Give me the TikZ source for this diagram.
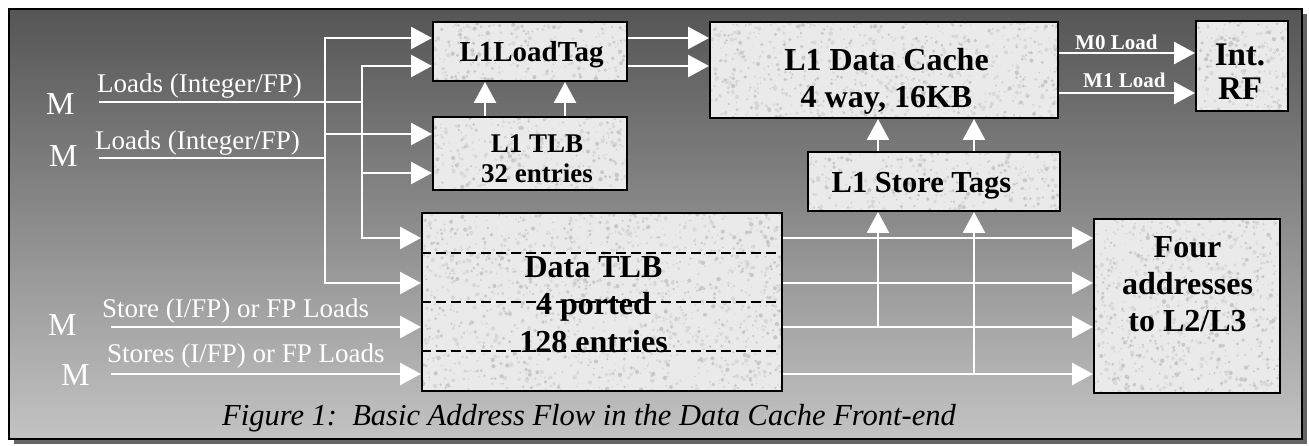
\documentclass[tikz,border=0pt]{standalone}
\usepackage{fontspec}
\setmainfont{Liberation Serif}
\usetikzlibrary{arrows.meta}
\definecolor{bgtop}{RGB}{85,85,85}
\definecolor{bgbot}{RGB}{195,195,195}
\definecolor{boxfill}{RGB}{234,234,234}
\definecolor{speck}{RGB}{200,200,200}
\definecolor{speckb}{RGB}{216,216,216}
\definecolor{shadowc}{RGB}{100,100,100}
\begin{document}
\begin{tikzpicture}[x=1pt,y=-1pt,
  granite/.style={path picture={
    \pgfpointdiff{\pgfpointanchor{path picture bounding box}{south west}}{\pgfpointanchor{path picture bounding box}{north east}}%
    \pgfgetlastxy\gw\gh
    \pgfmathtruncatemacro\gn{abs(\gw/42)*abs(\gh)}%
    \foreach \k in {1,...,\gn}{%
      \pgfmathsetmacro\px{rnd*\gw}%
      \pgfmathsetmacro\py{rnd*\gh}%
      \pgfmathsetmacro\pr{0.6+1.6*rnd}%
      \pgfmathtruncatemacro\pc{rnd<0.4 ? 0 : 1}%
      \ifnum\pc=0\relax
        \fill[speck] ([shift={(\px pt,\py pt)}]path picture bounding box.south west) circle[radius=\pr pt];
      \else
        \fill[speckb] ([shift={(\px pt,\py pt)}]path picture bounding box.south west) circle[radius=\pr pt];
      \fi
    }}},
  box/.style={draw=black,line width=2pt,fill=boxfill,inner sep=0pt,granite},
  btext/.style={font=\bfseries, align=center, inner sep=0pt, text=black},
  ltext/.style={inner sep=0pt, text=white, anchor=base west},
  wire/.style={draw=white,line width=2.6pt,line cap=rect},
  arr/.style={draw=white,line width=2.6pt,-{Triangle[length=21pt,width=22pt]}},
  dashline/.style={draw=black,line width=1.5pt,dash pattern=on 10pt off 5pt}]
\pgfmathsetseed{4242}
\useasboundingbox (0,0) rectangle (1309,446);
% frame
\fill[shadowc] (14,14) rectangle (1307,444);
\shade[top color=bgtop,bottom color=bgbot] (9,9) rectangle (1302,439);
\draw[line width=2pt] (9,9) rectangle (1302,439);
% boxes
\node[box, minimum width=194, minimum height=59] (ltag) at (530,51.5) {};
\node[box, minimum width=194, minimum height=73] (tlb1) at (530,153.5) {};
\node[box, minimum width=348, minimum height=96] (dcache) at (884,70) {};
\node[box, minimum width=92, minimum height=90] (intrf) at (1242,66) {};
\node[box, minimum width=252, minimum height=59] (stags) at (934,181.5) {};
\node[box, minimum width=360, minimum height=178] (dtlb) at (602,302) {};
\node[box, minimum width=186, minimum height=174] (four) at (1187,306) {};
% dashed rows in Data TLB
\coordinate (d1) at (0,253);
\coordinate (d2) at (0,302);
\coordinate (d3) at (0,351);
\draw[dashline] (dtlb.west|-d1) -- (dtlb.east|-d1);
\draw[dashline] (dtlb.west|-d2) -- (dtlb.east|-d2);
\draw[dashline] (dtlb.west|-d3) -- (dtlb.east|-d3);
% box texts
\node[btext, anchor=base, font=\bfseries\fontsize{29}{32}\selectfont] (ltagT) at (531.5,62) {L1LoadTag};
\node[btext, font=\bfseries\fontsize{27}{30}\selectfont] (tlb1T) at (537,159) {L1 TLB\\32 entries};
\node[btext, font=\bfseries\fontsize{32}{37}\selectfont] (dcacheT) at (886.5,81) {L1 Data Cache\\4 way, 16KB};
\node[btext, font=\bfseries\fontsize{33}{34}\selectfont] (intrfT) at (1240,72) {Int.\\RF};
\node[btext, anchor=base, font=\bfseries\fontsize{30.5}{34}\selectfont] (stagsT) at (921.5,193) {L1 Store Tags};
\node[btext, font=\bfseries\fontsize{32}{37.5}\selectfont] (dtlbT) at (593.5,304.5) {Data TLB\\4 ported\\128 entries};
\node[btext, font=\bfseries\fontsize{32}{37}\selectfont] (fourT) at (1187.5,284) {Four\\addresses\\to L2/L3};
% left labels
\node[ltext, font=\fontsize{32}{32}\selectfont] (M1) at (46,115) {M};
\node[ltext, font=\fontsize{32}{32}\selectfont] (M2) at (49,167) {M};
\node[ltext, font=\fontsize{32}{32}\selectfont] (M3) at (48,335) {M};
\node[ltext, font=\fontsize{32}{32}\selectfont] (M4) at (61,385) {M};
\node[ltext, font=\fontsize{27}{30}\selectfont] (lab1) at (97,93) {Loads (Integer/FP)};
\node[ltext, font=\fontsize{27}{30}\selectfont] (lab2) at (95,150) {Loads (Integer/FP)};
\node[ltext, font=\fontsize{27}{30}\selectfont] (lab3) at (102,318) {Store (I/FP) or FP Loads};
\node[ltext, font=\fontsize{27}{30}\selectfont] (lab4) at (107,362) {Stores (I/FP) or FP Loads};
\node[ltext, font=\bfseries\fontsize{21}{24}\selectfont] (lm0) at (1075,50) {M0 Load};
\node[ltext, font=\bfseries\fontsize{21}{24}\selectfont] (lm1) at (1083,88) {M1 Load};
% caption
\node[inner sep=0pt, anchor=base west, font=\itshape\fontsize{30.5}{31}\selectfont] (cap) at (222,425) {Figure 1:\ \ Basic Address Flow in the Data Cache Front-end};
% coordinates on buses
\coordinate (in1) at (100,102);
\coordinate (in2) at (100,158);
\coordinate (a0) at (325,158);
\coordinate (a1) at (325,38);
\coordinate (a2) at (325,134);
\coordinate (a3) at (325,283);
\coordinate (b0) at (362,102);
\coordinate (b1) at (362,66);
\coordinate (b2) at (362,173);
\coordinate (b3) at (362,238);
\coordinate (s1) at (111,327);
\coordinate (s2) at (111,374);
\coordinate (c1) at (878,327);
\coordinate (c2) at (974,374);
\coordinate (t1) at (485,0);
\coordinate (t2) at (565,0);
\coordinate (m0) at (1058,53);
\coordinate (m1) at (1058,93);
% input wires and buses
\draw[wire] (in1) -- (b0);
\draw[wire] (in2) -- (a0);
\draw[wire] (a1) -- (a3);
\draw[wire] (b1) -- (b3);
\draw[arr] (a1) -- (ltag.west|-a1);
\draw[arr] (b1) -- (ltag.west|-b1);
\draw[arr] (a2) -- (tlb1.west|-a2);
\draw[arr] (b2) -- (tlb1.west|-b2);
\draw[arr] (b3) -- (dtlb.west|-b3);
\draw[arr] (a3) -- (dtlb.west|-a3);
\draw[arr] (s1) -- (dtlb.west|-s1);
\draw[arr] (s2) -- (dtlb.west|-s2);
% TLB to tags
\draw[arr] (tlb1.north-|t1) -- (ltag.south-|t1);
\draw[arr] (tlb1.north-|t2) -- (ltag.south-|t2);
% tags to cache
\draw[arr] (ltag.east|-a1) -- (dcache.west|-a1);
\draw[arr] (ltag.east|-b1) -- (dcache.west|-b1);
% cache to RF
\draw[arr] (dcache.east|-m0) -- (intrf.west|-m0);
\draw[arr] (dcache.east|-m1) -- (intrf.west|-m1);
% Data TLB outputs
\draw[arr] (dtlb.east|-b3) -- (four.west|-b3);
\draw[arr] (dtlb.east|-a3) -- (four.west|-a3);
\draw[arr] (dtlb.east|-s1) -- (four.west|-s1);
\draw[arr] (dtlb.east|-s2) -- (four.west|-s2);
% store tag path
\draw[arr] (c1) -- (stags.south-|c1);
\draw[arr] (c2) -- (stags.south-|c2);
\draw[arr] (stags.north-|c1) -- (dcache.south-|c1);
\draw[arr] (stags.north-|c2) -- (dcache.south-|c2);
\end{tikzpicture}
\end{document}
